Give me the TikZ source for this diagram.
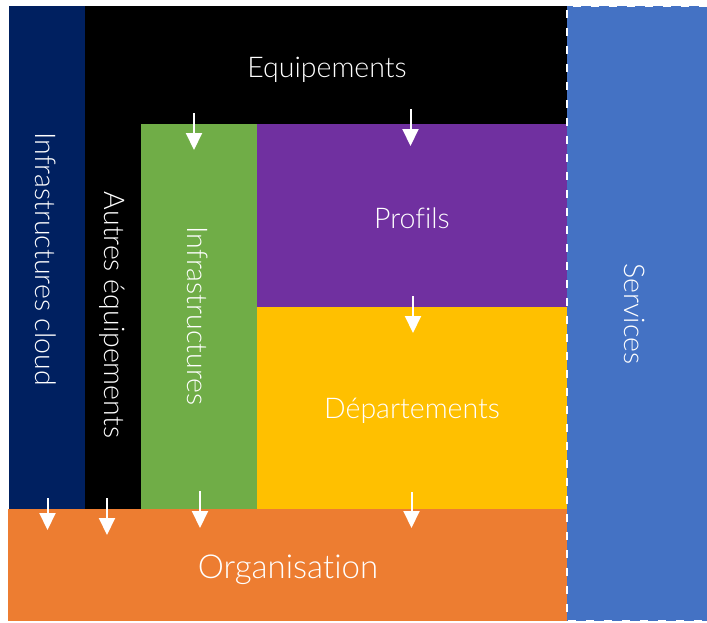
\documentclass[tikz,border=0pt]{standalone}
\usepackage{fontspec}
\setmainfont{Lato Light}[Ligatures={NoCommon}]
\usetikzlibrary{arrows.meta}
\definecolor{cnavy}{HTML}{002060}
\definecolor{cgreen}{HTML}{70AD47}
\definecolor{cpurple}{HTML}{7030A0}
\definecolor{cyellow}{HTML}{FFC000}
\definecolor{corange}{HTML}{ED7D31}
\definecolor{cblue}{HTML}{4472C4}
\tikzset{
  lbl/.style={text=white, font=\fontsize{28.5}{32}\selectfont, inner sep=0pt},
  biglbl/.style={lbl, font=\fontsize{33}{36}\selectfont},
  vlbl/.style={lbl, rotate=-90},
  flow/.style={white, line width=2pt, -{Triangle[width=16pt,length=17pt]}},
}
\begin{document}
\begin{tikzpicture}[x=1pt,y=-1pt]
\useasboundingbox (0,0) rectangle (707,622);
% regions
\fill[black] (85,6) rectangle (567,509);
\fill[cnavy] (9,6) rectangle (85,509);
\fill[cgreen] (141,124) rectangle (257,509);
\fill[cpurple] (257,124) rectangle (567,307);
\fill[cyellow] (257,307) rectangle (567,509);
\fill[corange] (8,509) rectangle (567,621);
\fill[cblue] (567,6) rectangle (707,621);
\draw[white, line width=2pt, dash pattern=on 8pt off 10pt] (707,6) -- (567,6) -- (567,621) -- (707,621);
% labels
\node[lbl] (equip) at (327,70) {Equipements};
\node[lbl] (profils) at (412,218) {Profils};
\node[lbl] (dept) at (412,411) {Départements};
\node[biglbl] (orga) at (288,570) {Organisation};
\node[vlbl] (cloud) at (46,259) {Infrastructures cloud};
\node[vlbl] (autres) at (112,315) {Autres équipements};
\node[vlbl] (infra) at (198,316) {Infrastructures};
\node[vlbl] (serv) at (635,314) {Services};
% arrows
\coordinate (a1s) at (47.5,498); \coordinate (a1e) at (47.5,530);
\coordinate (a2s) at (107,498); \coordinate (a2e) at (107,535);
\coordinate (a3s) at (200,491); \coordinate (a3e) at (200,528);
\coordinate (a4s) at (194,113); \coordinate (a4e) at (194,150);
\coordinate (a5s) at (410.5,109); \coordinate (a5e) at (410.5,146);
\coordinate (a6s) at (413,296); \coordinate (a6e) at (413,333);
\coordinate (a7s) at (411.5,492); \coordinate (a7e) at (411.5,528);
\foreach \i in {1,...,7} \draw[flow] (a\i s) -- (a\i e);
\end{tikzpicture}
\end{document}
